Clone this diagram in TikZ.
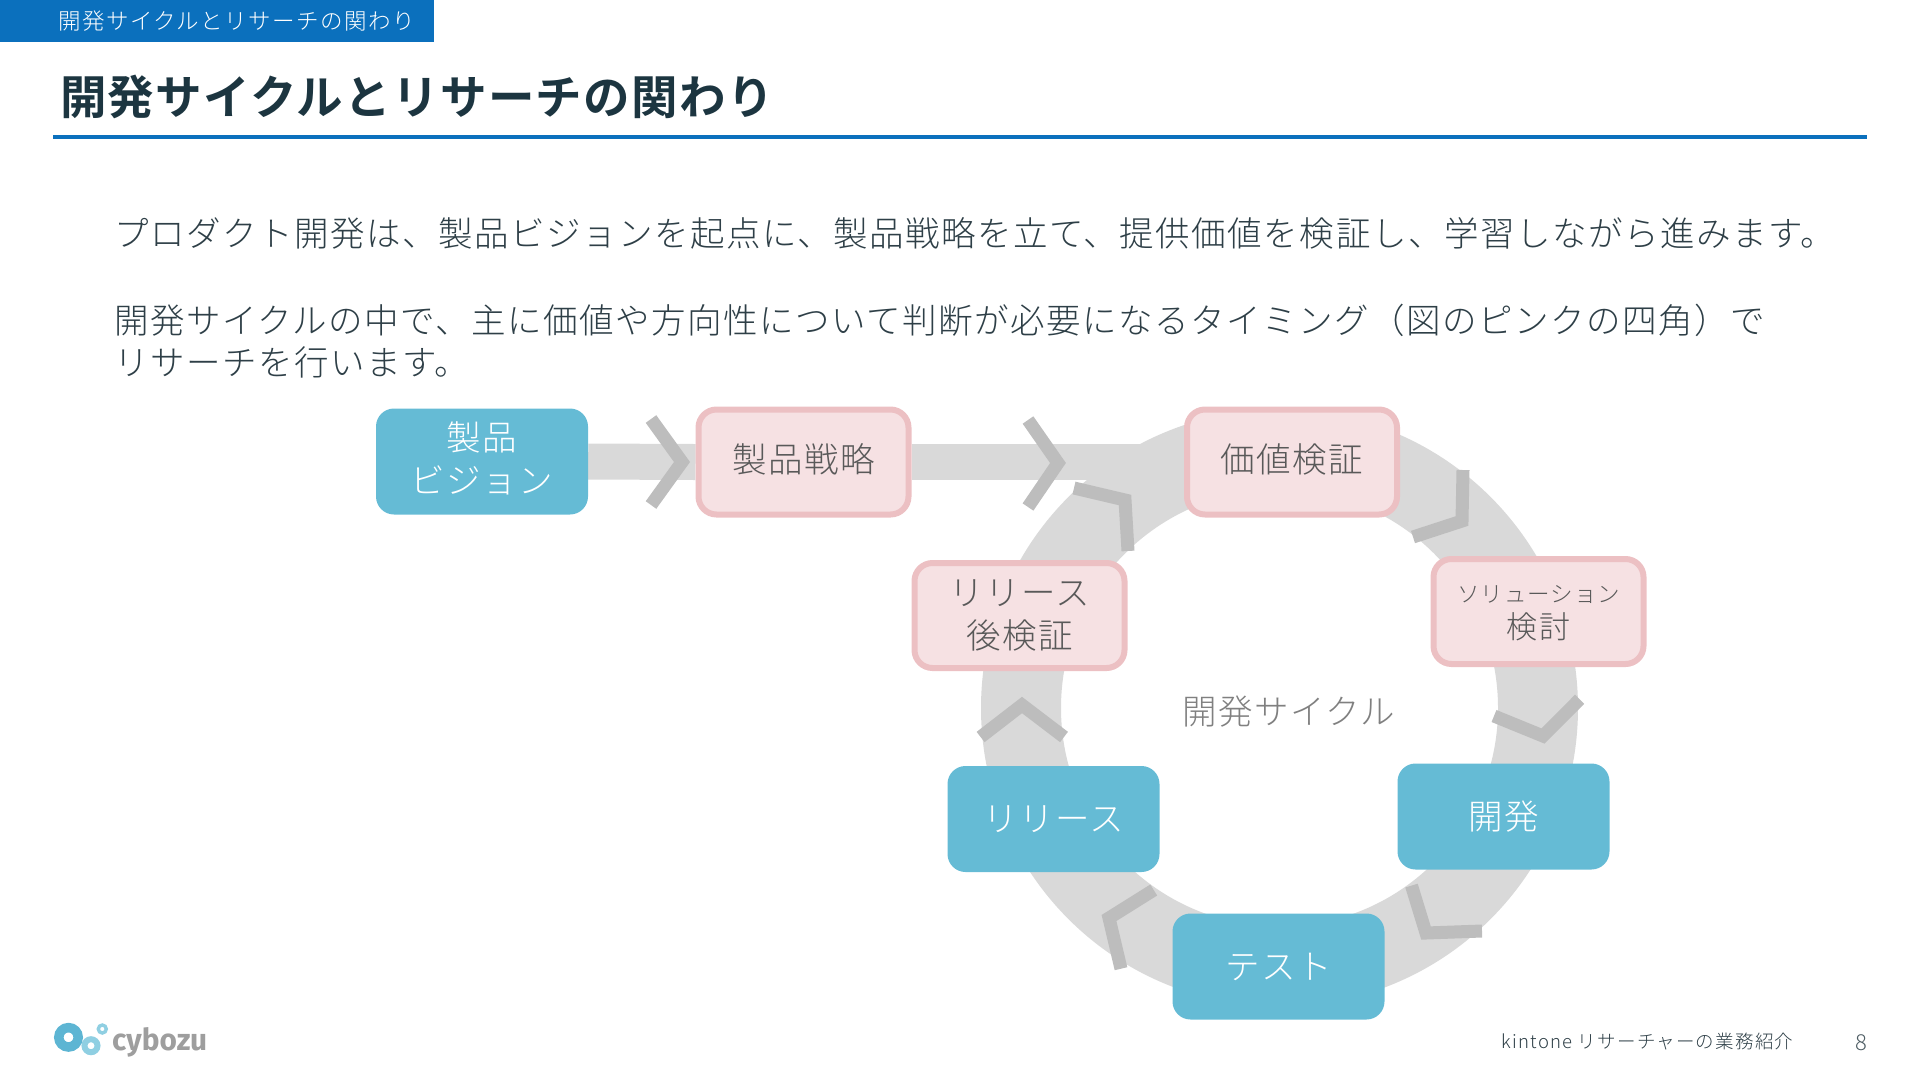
\documentclass[tikz,border=0pt]{standalone}
\usepackage{fontspec}
\usepackage{graphicx}
\usetikzlibrary{backgrounds}
\newfontfamily\jpbody[LetterSpace=4.4]{Noto Sans CJK JP Light}
\newfontfamily\jpsmall[LetterSpace=6.5]{Noto Sans CJK JP Light}
\newfontfamily\jptitle[LetterSpace=2.8]{Noto Sans CJK JP Bold}
\newfontfamily\logofont{Fira Sans}
\definecolor{blueband}{HTML}{0B70BD}
\definecolor{titleink}{HTML}{1C3540}
\definecolor{bodyink}{HTML}{2E3F47}
\definecolor{cyanbox}{HTML}{65BBD5}
\definecolor{pinkfill}{HTML}{F6E1E3}
\definecolor{pinkline}{HTML}{ECC0C3}
\definecolor{pinktext}{HTML}{595959}
\definecolor{ringgray}{HTML}{D9D9D9}
\definecolor{chevgray}{HTML}{BDBDBD}
\definecolor{centertext}{HTML}{808080}
\definecolor{logoblue}{HTML}{5DB5D3}
\definecolor{logolight}{HTML}{8FCFE2}
\newcommand{\liftby}[2]{\raisebox{#1}[\height][\depth]{\begin{tabular}{@{}c@{}}#2\end{tabular}}}
\tikzset{
  cyanstep/.style={fill=cyanbox,draw=none,rounded corners=18pt,minimum width=212pt,minimum height=106pt,inner sep=0pt,align=center,text=white,font=\jpbody\fontsize{34.5}{43}\selectfont},
  pinkstep/.style={fill=pinkfill,draw=pinkline,line width=6pt,rounded corners=18pt,minimum width=210pt,minimum height=105pt,inner sep=0pt,align=center,text=pinktext,font=\jpbody\fontsize{34.5}{43}\selectfont},
  chev/.style={draw=chevgray,line width=13pt,miter limit=10,line join=miter,line cap=butt},
  flowbar/.style={draw=ringgray,line width=36pt},
  plaintext/.style={inner sep=0pt,anchor=base west},
}
\begin{document}
\begin{tikzpicture}[x=1pt,y=-1pt]
\useasboundingbox (0,0) rectangle (1920,1080);
% header
\fill[blueband] (0,0) rectangle (433.5,41.6);
\node[plaintext,text=white,font=\jpsmall\fontsize{22.5}{26}\selectfont] (tag) at (58,29.5) {開発サイクルとリサーチの関わり};
\node[plaintext,text=titleink,font=\jptitle\fontsize{46.5}{54}\selectfont] (title) at (60,114.5) {開発サイクルとリサーチの関わり};
\fill[blueband] (53,134.5) rectangle (1867,138.5);
% body
\node[plaintext,text=bodyink,font=\jpbody\fontsize{34.5}{40}\selectfont] (l1) at (114,246) {プロダクト開発は、製品ビジョンを起点に、製品戦略を立て、提供価値を検証し、学習しながら進みます。};
\node[plaintext,text=bodyink,font=\jpbody\fontsize{34.5}{40}\selectfont] (l2) at (114,333) {開発サイクルの中で、主に価値や方向性について判断が必要になるタイミング（図のピンクの四角）で};
\node[plaintext,text=bodyink,font=\jpbody\fontsize{34.5}{40}\selectfont] (l3) at (114,375) {リサーチを行います。};
% boxes
\node[cyanstep] (vision) at (482,461.5) {\liftby{-2pt}{製品\\ビジョン}};
\node[pinkstep] (strategy) at (803.5,462) {\liftby{-2.2pt}{製品戦略}};
\node[pinkstep] (value) at (1292,462) {\liftby{-1.7pt}{価値検証}};
\node[pinkstep] (post) at (1019.5,615.5) {リリース\\後検証};
\node[pinkstep] (solution) at (1538.5,611.5) {\liftby{0pt}{{\fontsize{22.5}{30}\selectfont ソリューション}\\[-7pt]{\fontsize{31}{34}\selectfont 検討}}};
\node[cyanstep] (dev) at (1503.5,816.5) {開発};
\node[cyanstep] (release) at (1053.5,819) {リリース};
\node[cyanstep] (testbox) at (1278.5,966.5) {テスト};
\node[inner sep=0pt,text=centertext,font=\jpbody\fontsize{34.5}{40}\selectfont] (cycle) at (1288.5,711.5) {開発サイクル};
\begin{scope}[on background layer]
  \coordinate (ringc) at (1279.5,708);
  \draw[draw=ringgray,line width=80pt] (ringc) circle[radius=258.5pt];
  \draw[flowbar] (vision.east) -- (strategy.west);
  \draw[flowbar] (strategy.east) -- (value.west);
  \draw[chev] (651,419) -- (682,462) -- (651,505);
  \draw[chev] (1028,420) -- (1058,463) -- (1028,507);
  \draw[chev] (1463,470) -- (1462,521) -- (1413,537);
  \draw[chev] (1579.6,699.3) -- (1543,736) -- (1494,716);
  \draw[chev] (1411.5,885.6) -- (1426,933) -- (1482,931);
  \draw[chev] (1153.7,890) -- (1109,918) -- (1121,968.7);
  \draw[chev] (980.6,737) -- (1022,705) -- (1064,737);
  \draw[chev] (1074,488) -- (1125,500) -- (1128,551);
\end{scope}
% footer
\draw[logoblue,line width=9.5pt] (68.5,1037.3) circle[radius=9.7pt];
\draw[logolight,line width=6pt] (91,1045.7) circle[radius=6.5pt];
\draw[logolight,line width=3.4pt] (102.3,1029) circle[radius=4pt];
\node[plaintext,text=black!38,font=\logofont\bfseries\fontsize{36}{40}\selectfont] (logo) at (112,1050) {\resizebox{95pt}{23pt}{cybozu}};
\node[plaintext,text=bodyink,font=\jpsmall\fontsize{18.5}{22}\selectfont] (foot) at (1501.7,1048.5) {kintone リサーチャーの業務紹介};
\node[plaintext,text=bodyink!85,font=\jpsmall\fontsize{22}{24}\selectfont] (page) at (1855,1050) {8};
\end{tikzpicture}
\end{document}
